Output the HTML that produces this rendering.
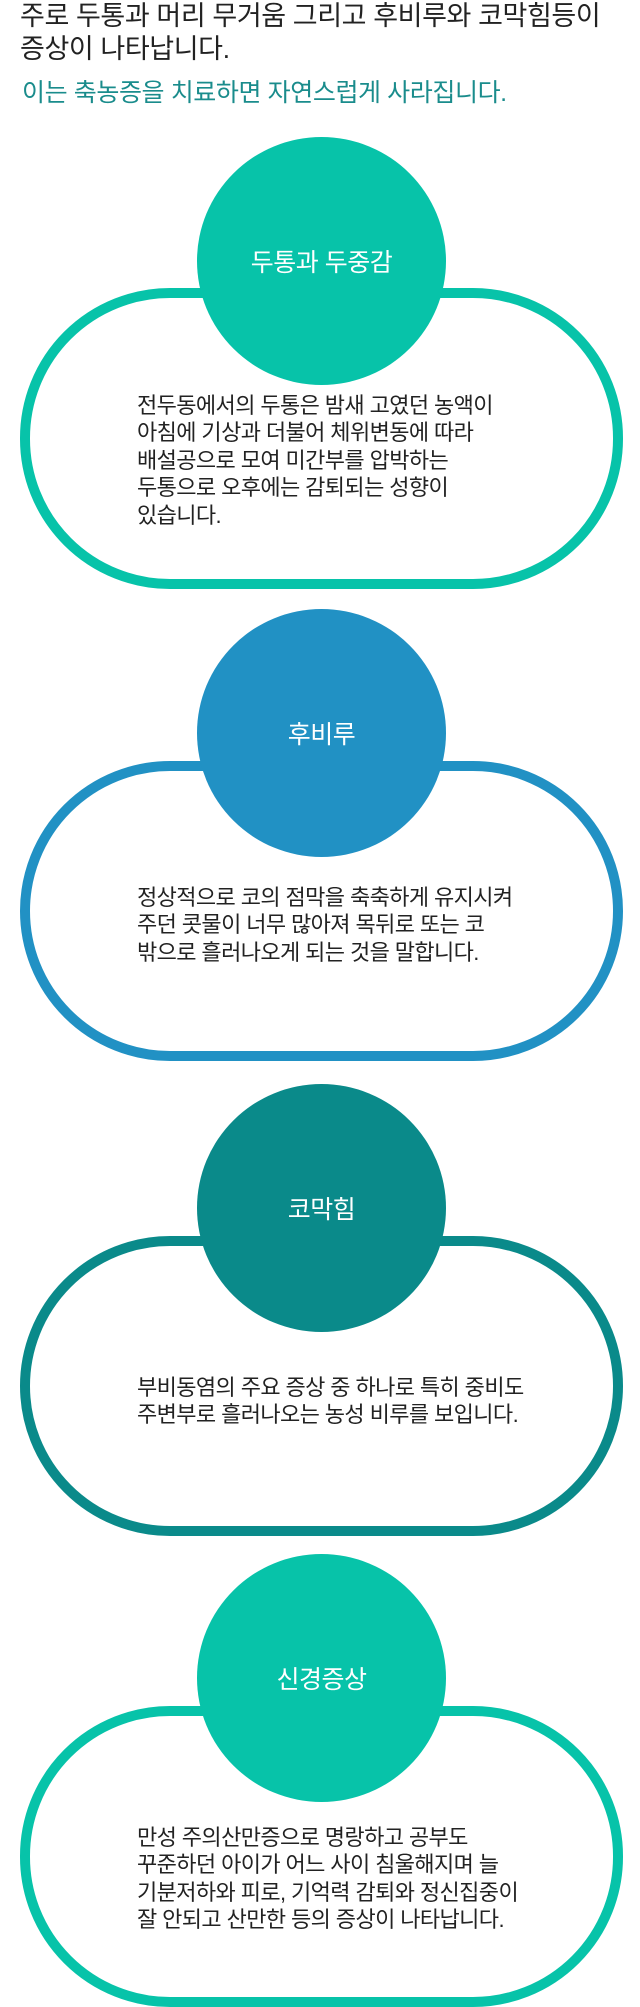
<!DOCTYPE html>
<html><head><meta charset="utf-8"><style>
body{margin:0;width:640px;height:2007px;background:#fff;position:relative;overflow:hidden;font-family:"Liberation Sans","Noto Sans CJK KR",sans-serif;}
.t{position:absolute;left:20px;white-space:nowrap;}
.pill{position:absolute;left:20px;width:583px;border:10px solid;border-radius:150px;box-sizing:content-box;}
.c{position:absolute;left:197px;width:249px;height:248px;border-radius:50%;color:#fff;font-size:25px;letter-spacing:-0.5px;display:flex;align-items:center;justify-content:center;}
.b{position:absolute;left:137px;font-size:22px;line-height:27.4px;color:#222;white-space:nowrap;letter-spacing:-0.6px;}
</style></head><body>
<div class="t" style="top:0px;font-size:27px;line-height:33px;color:#222;letter-spacing:-0.4px">주로 두통과 머리 무거움 그리고 후비루와 코막힘등이<br>증상이 나타납니다.</div>
<div class="t" style="top:78px;left:22px;font-size:25px;line-height:30px;color:#1a8c8c;letter-spacing:-0.4px">이는 축농증을 치료하면 자연스럽게 사라집니다.</div>

<div class="pill" style="top:288px;height:281px;border-color:#07c3a9"></div>
<div class="c" style="top:137px;background:#07c3a9">두통과 두중감</div>
<div class="b" style="top:392px">전두동에서의 두통은 밤새 고였던 농액이<br>아침에 기상과 더불어 체위변동에 따라<br>배설공으로 모여 미간부를 압박하는<br>두통으로 오후에는 감퇴되는 성향이<br>있습니다.</div>

<div class="pill" style="top:761px;height:280px;border-color:#2191c4"></div>
<div class="c" style="top:609px;background:#2191c4">후비루</div>
<div class="b" style="top:884px">정상적으로 코의 점막을 축축하게 유지시켜<br>주던 콧물이 너무 많아져 목뒤로 또는 코<br>밖으로 흘러나오게 되는 것을 말합니다.</div>

<div class="pill" style="top:1236px;height:280px;border-color:#0a8a8a"></div>
<div class="c" style="top:1084px;background:#0a8a8a">코막힘</div>
<div class="b" style="top:1374px">부비동염의 주요 증상 중 하나로 특히 중비도<br>주변부로 흘러나오는 농성 비루를 보입니다.</div>

<div class="pill" style="top:1706px;height:281px;border-color:#07c3a9"></div>
<div class="c" style="top:1554px;background:#07c3a9">신경증상</div>
<div class="b" style="top:1824px">만성 주의산만증으로 명랑하고 공부도<br>꾸준하던 아이가 어느 사이 침울해지며 늘<br>기분저하와 피로, 기억력 감퇴와 정신집중이<br>잘 안되고 산만한 등의 증상이 나타납니다.</div>
</body></html>
